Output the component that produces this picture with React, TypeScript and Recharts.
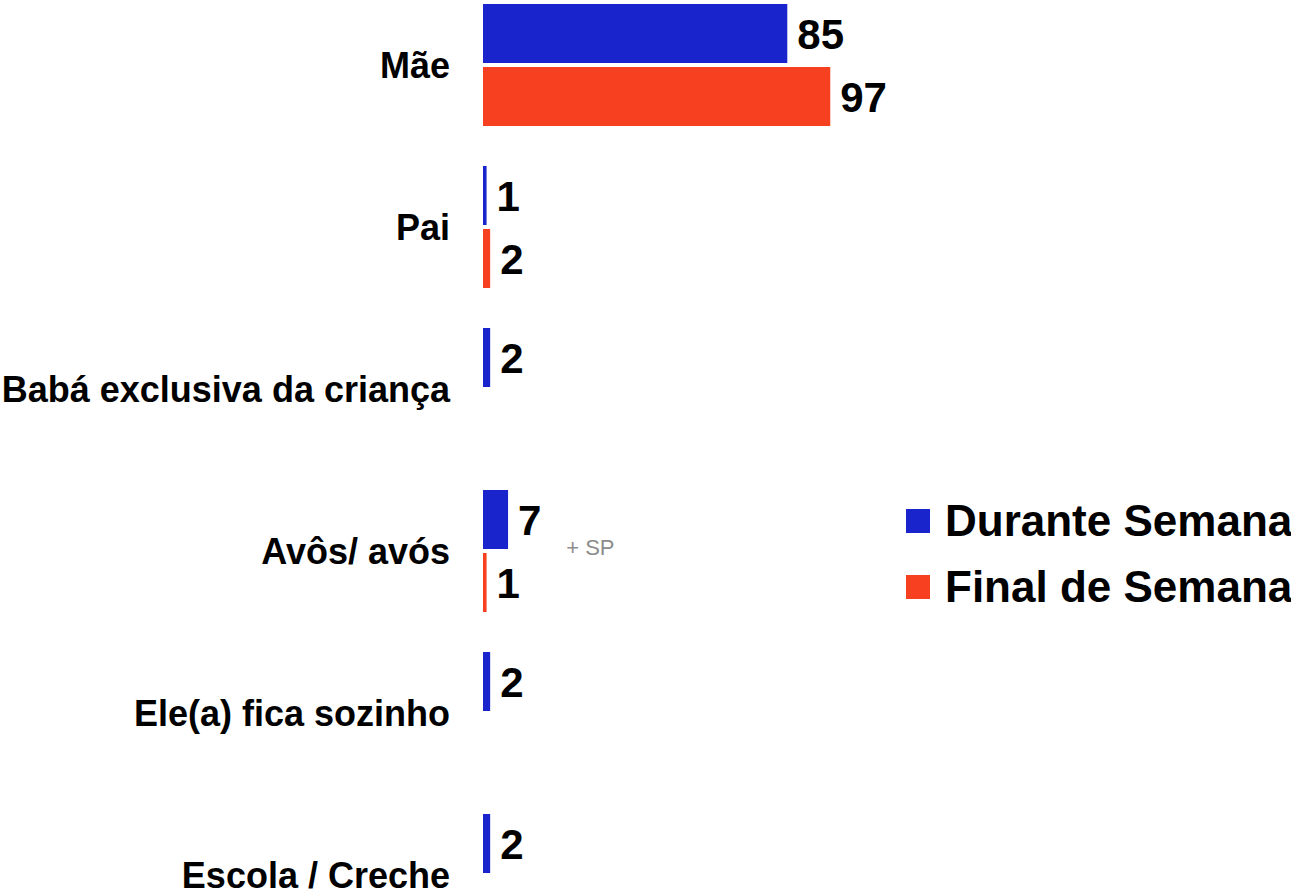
import { BarChart, Bar, XAxis, YAxis, LabelList, ReferenceDot } from 'recharts';

const categories = ['Mãe', 'Pai', 'Babá exclusiva da criança', 'Avôs/ avós', 'Ele(a) fica sozinho', 'Escola / Creche'];
const duranteSemana = [85, 1, 2, 7, 2, 2];
const finalDeSemana: (number | null)[] = [97, 2, null, 1, null, null];

const BLUE = '#1a24cc';
const RED = '#f7401f';
const FONT = '"Liberation Sans", Arial, sans-serif';

const data = categories.map((name, i) => ({
  name,
  durante: duranteSemana[i],
  final: finalDeSemana[i],
}));

const CategoryTick = (props: any) => {
  const { x, y, payload } = props;
  return (
    <text x={x} y={y} dy="0.36em" textAnchor="end" fontFamily={FONT} fontWeight="bold" fontSize={36} fill="#000">
      {payload.value}
    </text>
  );
};

const ValueLabel = (props: any) => {
  const { x, y, width, height, value } = props;
  if (value === null || value === undefined) return null;
  return (
    <text x={x + width + 10} y={y + height / 2} dy="0.36em" fontFamily={FONT} fontWeight="bold" fontSize={42} fill="#000">
      {value}
    </text>
  );
};

export default function App() {
  return (
    <div style={{ position: 'absolute', left: 0, top: 0, width: 1291, height: 890, overflow: 'hidden', background: '#fff' }}>
      <div style={{ position: 'absolute', left: 0, top: -16 }}>
        <BarChart
          width={1291}
          height={972}
          data={data}
          layout="vertical"
          margin={{ top: 0, right: 450, bottom: 0, left: 0 }}
          barSize={59}
          barGap={4}
        >
          <XAxis type="number" domain={[0, 100]} hide />
          <YAxis
            type="category"
            dataKey="name"
            width={483}
            axisLine={false}
            tickLine={false}
            tickSize={0}
            tickMargin={33}
            tick={<CategoryTick />}
            interval={0}
          />
          <Bar dataKey="durante" fill={BLUE} isAnimationActive={false}>
            <LabelList dataKey="durante" content={<ValueLabel />} />
          </Bar>
          <Bar dataKey="final" fill={RED} isAnimationActive={false}>
            <LabelList dataKey="final" content={<ValueLabel />} />
          </Bar>
          <ReferenceDot
            x={30}
            y="Avôs/ avós"
            r={0}
            fill="none"
            stroke="none"
            label={{ value: '+ SP', position: 'center', fill: '#8c8c8c', fontSize: 22, fontFamily: FONT, dy: -4 }}
          />
        </BarChart>
      </div>
      <div
        style={{
          position: 'absolute',
          left: 906,
          top: 488,
          width: 385,
          whiteSpace: 'nowrap',
          fontFamily: FONT,
          fontWeight: 'bold',
          fontSize: 44,
          color: '#000',
        }}
      >
        <div style={{ display: 'flex', alignItems: 'center', height: 66 }}>
          <div style={{ width: 24, height: 24, background: BLUE, marginRight: 15, flexShrink: 0 }} />
          <span>Durante Semana</span>
        </div>
        <div style={{ display: 'flex', alignItems: 'center', height: 66 }}>
          <div style={{ width: 24, height: 24, background: RED, marginRight: 15, flexShrink: 0 }} />
          <span>Final de Semana</span>
        </div>
      </div>
    </div>
  );
}
